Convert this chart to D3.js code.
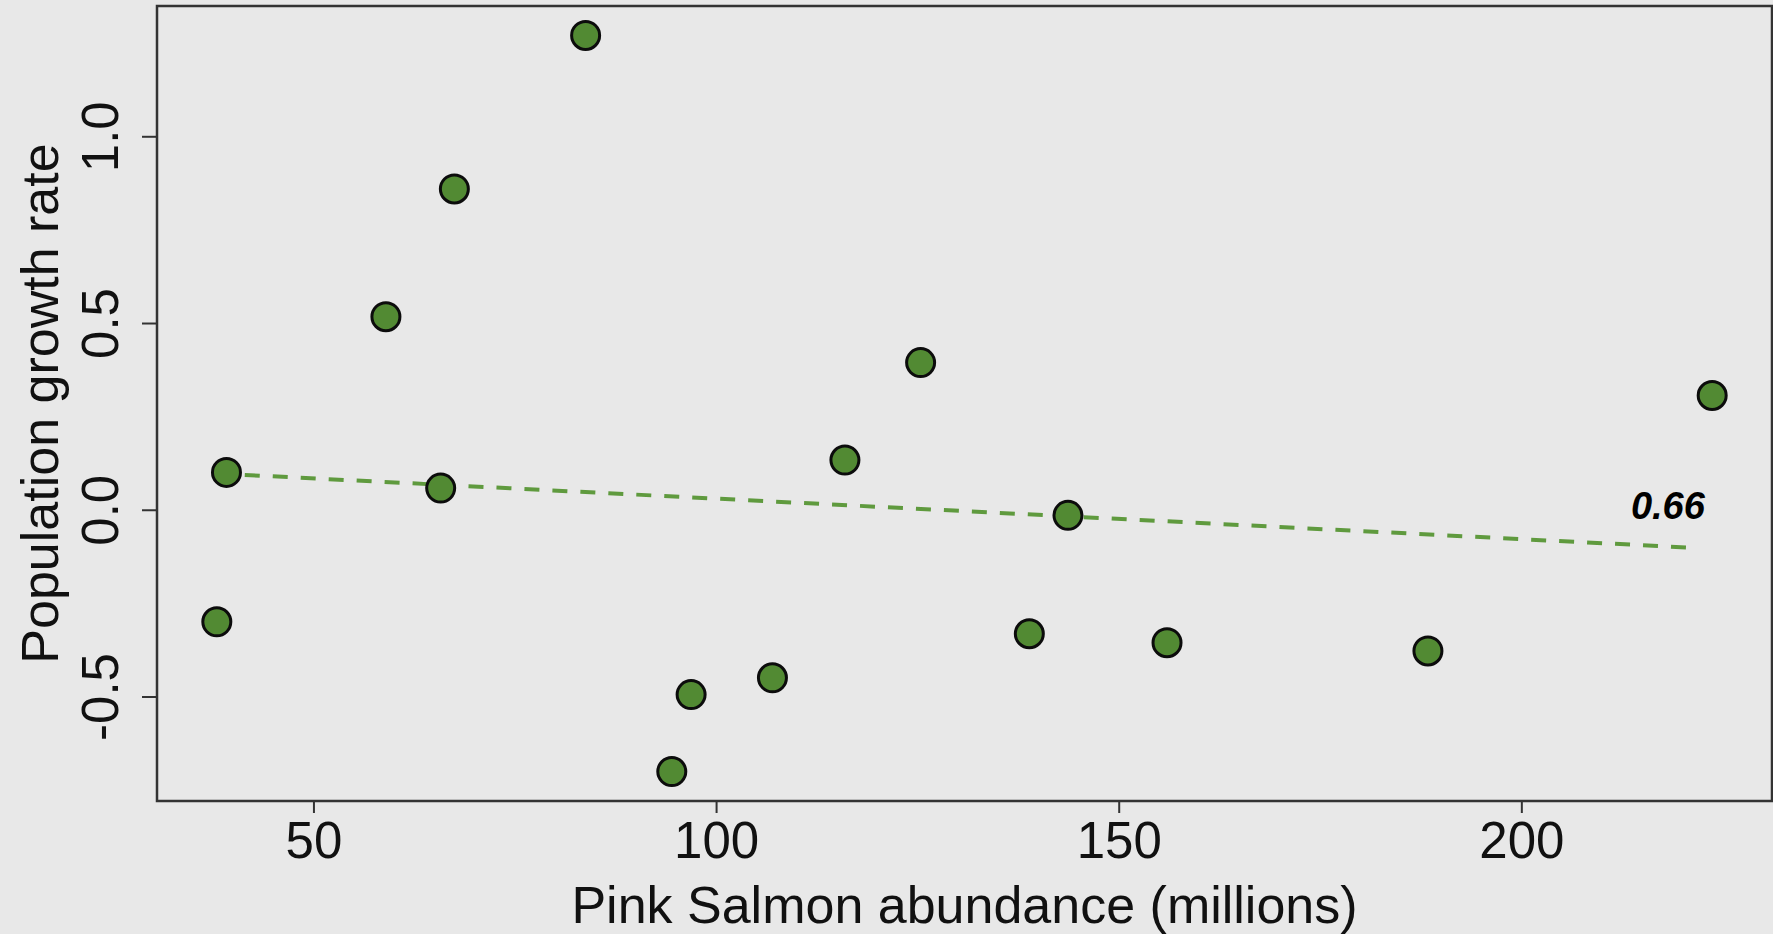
<!DOCTYPE html>
<html>
<head>
<meta charset="utf-8">
<script src="https://cdn.jsdelivr.net/npm/d3@7"></script>
<style>
  html, body { margin: 0; padding: 0; background: #e8e8e8; }
  svg { display: block; font-family: "Liberation Sans", Arial, sans-serif; }
</style>
</head>
<body>
<div id="chart"></div>
<script>
// pink salmon abundance (millions) vs population growth rate
var abundance = [38.0, 39.2, 59.0, 65.8, 67.5, 83.8, 94.5, 96.9, 107.0, 116.0, 125.4, 138.9, 143.7, 156.0, 188.4, 223.7];
var growth = [-0.30, 0.10, 0.517, 0.058, 0.859, 1.270, -0.701, -0.495, -0.450, 0.133, 0.394, -0.332, -0.015, -0.356, -0.378, 0.306];
var trendX = [38.0, 221.5];
var trendY = [0.097, -0.102];
var xTicks = [50, 100, 150, 200];
var yTicks = [-0.5, 0.0, 0.5, 1.0];
var annotation = { text: "0.66", x: 218.2, y: -0.024 };

var width = 1773, height = 934;
var plotLeft = 157, plotRight = 1772, plotTop = 6, plotBottom = 801;

function expand(ext) {
    var d = (ext[1] - ext[0]) * 0.04;
    return [ext[0] - d, ext[1] + d];
}

var x = d3.scaleLinear().domain(expand(d3.extent(abundance))).range([plotLeft, plotRight]);
var y = d3.scaleLinear().domain(expand(d3.extent(growth))).range([plotBottom, plotTop]);

var svg = d3.select("#chart").append("svg")
    .attr("width", width)
    .attr("height", height);

svg.append("rect")
    .attr("width", width).attr("height", height)
    .style("fill", "#e8e8e8");

// x axis
var gx = svg.append("g")
    .attr("transform", "translate(0," + plotBottom + ")")
    .call(d3.axisBottom(x).tickValues(xTicks).tickFormat(d3.format("d")).tickSize(12).tickSizeOuter(0));
gx.select(".domain").remove();
gx.selectAll("line").style("stroke", "#333").style("stroke-width", 2);
gx.selectAll("text")
    .attr("y", 57).attr("dy", null)
    .style("font-size", "51px").style("fill", "#111");

// y axis, R style labels with plain hyphen
var fmtY = d3.format(".1f");
var gy = svg.append("g")
    .attr("transform", "translate(" + plotLeft + ",0)")
    .call(d3.axisLeft(y).tickValues(yTicks)
        .tickFormat(function (d) { return fmtY(d).replace("\u2212", "-"); })
        .tickSize(15).tickSizeOuter(0));
gy.select(".domain").remove();
gy.selectAll("line").style("stroke", "#333").style("stroke-width", 2);
gy.selectAll("text")
    .attr("x", null).attr("dy", null)
    .attr("transform", "translate(-39,0) rotate(-90)")
    .attr("text-anchor", "middle")
    .style("font-size", "51px").style("fill", "#111");

// plot box
svg.append("rect")
    .attr("x", plotLeft).attr("y", plotTop)
    .attr("width", plotRight - plotLeft).attr("height", plotBottom - plotTop)
    .style("fill", "none")
    .style("stroke", "#333")
    .style("stroke-width", 2.5);

// trend line
svg.append("line")
    .attr("x1", x(trendX[0])).attr("y1", y(trendY[0]))
    .attr("x2", x(trendX[1])).attr("y2", y(trendY[1]))
    .style("stroke", "#5f9a3e")
    .style("stroke-width", 4)
    .style("stroke-dasharray", "15,13");

// points
svg.append("g")
    .selectAll("circle")
    .data(abundance)
    .enter()
    .append("circle")
    .attr("cx", function (d) { return x(d); })
    .attr("cy", function (d, i) { return y(growth[i]); })
    .attr("r", 14)
    .style("fill", "#528a33")
    .style("stroke", "#0c0c0c")
    .style("stroke-width", 3);

// annotation
svg.append("text")
    .attr("x", x(annotation.x))
    .attr("y", y(annotation.y))
    .attr("text-anchor", "middle")
    .style("font-size", "38px")
    .style("font-weight", "bold")
    .style("font-style", "italic")
    .style("fill", "#000")
    .text(annotation.text);

// axis titles
svg.append("text")
    .attr("x", (plotLeft + plotRight) / 2)
    .attr("y", 923)
    .attr("text-anchor", "middle")
    .style("font-size", "52px")
    .style("fill", "#111")
    .text("Pink Salmon abundance (millions)");

svg.append("text")
    .attr("transform", "translate(58," + ((plotTop + plotBottom) / 2) + ") rotate(-90)")
    .attr("text-anchor", "middle")
    .style("font-size", "52px")
    .style("fill", "#111")
    .text("Population growth rate");
</script>
</body>
</html>
